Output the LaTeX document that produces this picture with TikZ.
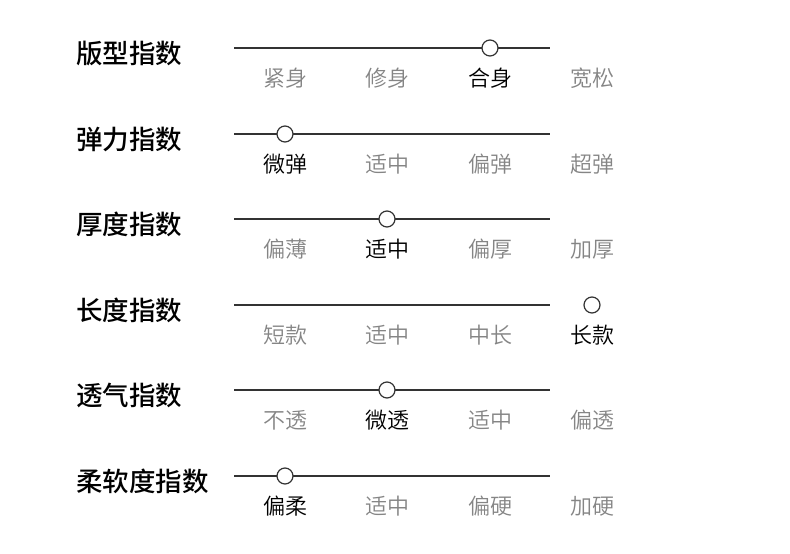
\documentclass[tikz,border=0pt]{standalone}
\usepackage{fontspec}
\setmainfont{Noto Sans CJK SC}
\newfontfamily\cjk{Noto Sans CJK SC DemiLight}
\newfontfamily\cjkm{Noto Sans CJK SC Medium}
\begin{document}
\begin{tikzpicture}[x=1pt,y=-1pt,
  title/.style={anchor=west,inner sep=0pt,font=\cjkm\fontsize{26.5}{30}\selectfont,text=black},
  opt/.style={inner sep=0pt,font=\cjk\fontsize{22}{26}\selectfont,text=optgray},
  sel/.style={inner sep=0pt,font=\cjk\fontsize{22}{26}\selectfont,text=black},
  track/.style={draw=trackc,line width=1.4pt},
  knob/.style={circle,draw=trackc,fill=white,line width=1.2pt,minimum size=16pt,inner sep=0pt}]
\definecolor{optgray}{HTML}{858585}
\definecolor{trackc}{HTML}{333333}
\useasboundingbox (0,0) rectangle (790,554);
\foreach \i/\t/\ya/\a/\b/\c/\d/\k in {
  1/版型指数/48/紧身/修身/合身/宽松/3,
  2/弹力指数/134/微弹/适中/偏弹/超弹/1,
  3/厚度指数/219/偏薄/适中/偏厚/加厚/2,
  4/长度指数/305/短款/适中/中长/长款/4,
  5/透气指数/390/不透/微透/适中/偏透/2,
  6/柔软度指数/476/偏柔/适中/偏硬/加硬/1}{
  \node[title] (t\i) at (76,\ya+5) {\t};
  \coordinate (s\i) at (234,\ya);
  \coordinate (e\i) at (550,\ya);
  \draw[track] (s\i) -- (e\i);
  \foreach \n/\x/\lab in {1/285/\a,2/387/\b,3/490/\c,4/592/\d}{
    \ifnum\n=\k
      \node[sel] (l\i\n) at (\x,\ya+30) {\lab};
      \node[knob] (k\i) at (\x,\ya) {};
    \else
      \node[opt] (l\i\n) at (\x,\ya+30) {\lab};
    \fi
  }
}
\end{tikzpicture}
\end{document}
